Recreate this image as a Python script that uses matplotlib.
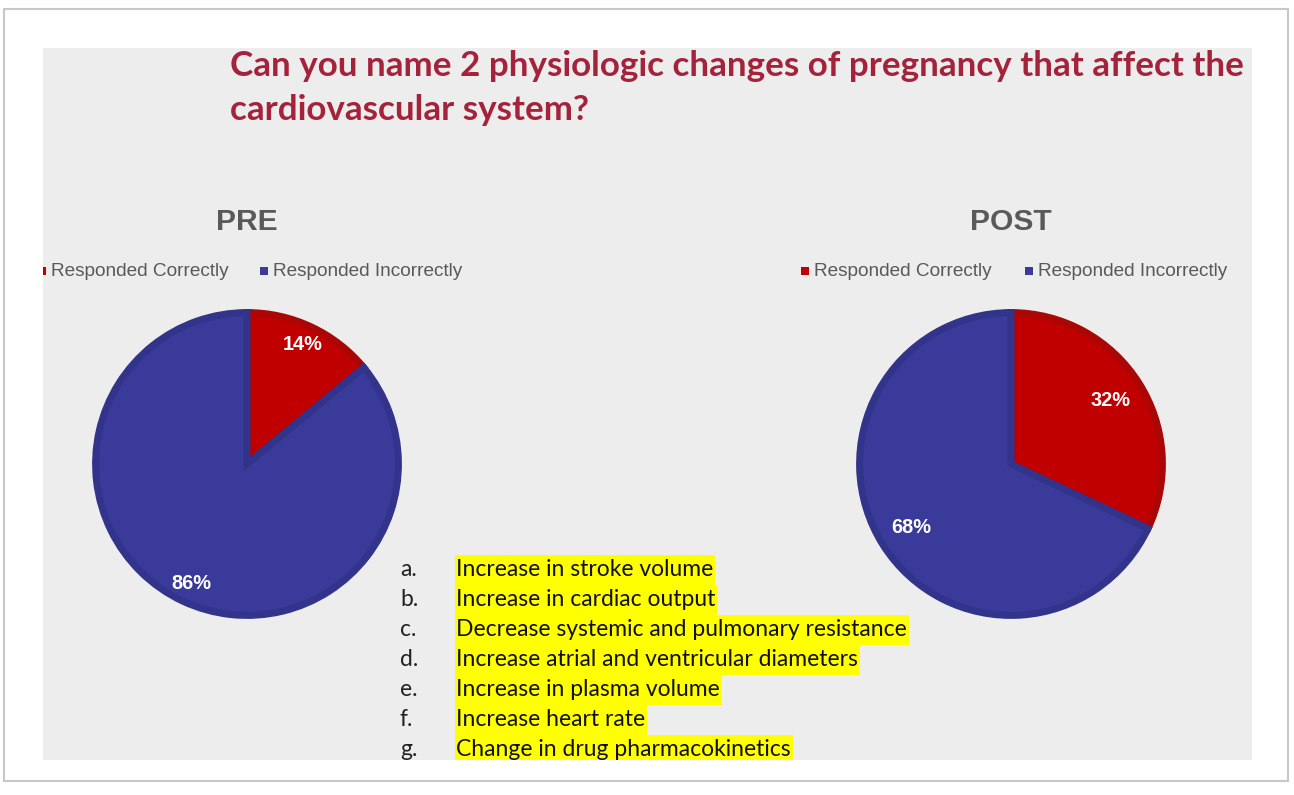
#!/usr/bin/env python3
import matplotlib
matplotlib.use("Agg")
import matplotlib.pyplot as plt
from matplotlib.patches import Rectangle

W, H = 1294, 795

TITLE = "Can you name 2 physiologic changes of pregnancy that affect the\ncardiovascular system?"
CATEGORIES = ["Responded Correctly", "Responded Incorrectly"]
PRE_VALUES = [14, 86]
POST_VALUES = [32, 68]
PANEL_TITLES = ["PRE", "POST"]
LIST_LETTERS = ["a.", "b.", "c.", "d.", "e.", "f.", "g."]
LIST_ITEMS = [
    "Increase in stroke volume",
    "Increase in cardiac output",
    "Decrease systemic and pulmonary resistance",
    "Increase atrial and ventricular diameters",
    "Increase in plasma volume",
    "Increase heart rate",
    "Change in drug pharmacokinetics",
]

RED, RED_EDGE = "#C00000", "#AA0606"
BLUE, BLUE_EDGE = "#393A9A", "#32338A"
GRAY_TEXT = "#595959"


def px(v):
    return v * 72 / 100.0


fig = plt.figure(figsize=(W / 100, H / 100), dpi=100, facecolor="white")
bg = fig.add_axes([0, 0, 1, 1])
bg.set_xlim(0, W)
bg.set_ylim(H, 0)
bg.axis("off")

# slide frame and grey panel
bg.add_patch(Rectangle((4, 9), 1284, 772, facecolor="white", edgecolor="#c8c8c8", lw=1.5))
panel = Rectangle((43, 48), 1209, 712, facecolor="#EDEDED", edgecolor="none")
bg.add_patch(panel)

bg.text(230, 88, TITLE, fontsize=px(35), fontweight="bold", color="#A5233A",
        family="Lato", ha="left", va="center", linespacing=1.48)


def draw_pie(cx, values, title, label_r):
    r = 155
    ax = fig.add_axes([(cx - r) / W, (H - (464 + r)) / H, 2 * r / W, 2 * r / H])
    wedges, texts = ax.pie(values, colors=[RED, BLUE], startangle=90, counterclock=False,
                           radius=0.977, labels=[f"{v}%" for v in values], labeldistance=label_r,
                           wedgeprops=dict(linewidth=5), textprops=dict(color="white",
                           fontsize=px(20), fontweight="bold", family="Liberation Sans"))
    wedges[0].set_edgecolor(RED_EDGE)
    wedges[1].set_edgecolor(BLUE_EDGE)
    for t in texts:
        t.set_ha("center")
        t.set_va("center")
    ax.set_xlim(-1, 1)
    ax.set_ylim(-1, 1)
    ax.set_aspect("equal")
    ax.axis("off")
    bg.text(cx, 222, title, fontsize=px(30), fontweight="bold", color=GRAY_TEXT,
            family="Liberation Sans", ha="center", va="center")


draw_pie(247, PRE_VALUES, PANEL_TITLES[0], 0.87)
draw_pie(1011, POST_VALUES, PANEL_TITLES[1], 0.78)

# legends
legend_x = [[38, 260], [801, 1025]]
for xs in legend_x:
    for x0, cat, col in zip(xs, CATEGORIES, [RED, BLUE]):
        sq = Rectangle((x0, 267), 8, 8, facecolor=col, edgecolor="none")
        bg.add_patch(sq)
        sq.set_clip_path(panel)
        bg.text(x0 + 13, 272, cat, fontsize=px(19), color=GRAY_TEXT, family="Liberation Sans",
                ha="left", va="center")

# answer list
rows = []
for i, (letter, item) in enumerate(zip(LIST_LETTERS, LIST_ITEMS)):
    y = 570 + i * 30
    t1 = bg.text(400, y, letter, fontsize=px(22.9), color="#222222", family="Lato",
                 ha="left", va="center")
    t2 = bg.text(456, y, item, fontsize=px(22.9), color="#111111", family="Lato",
                 ha="left", va="center", zorder=3)
    t1.set_clip_path(panel)
    t2.set_clip_path(panel)
    rows.append((t2, y))

fig.canvas.draw()
renderer = fig.canvas.get_renderer()
for t, y in rows:
    ext = t.get_window_extent(renderer)
    hl = Rectangle((455, y - 15), ext.width + 3, 30, facecolor="#FFFF00", edgecolor="none", zorder=2)
    bg.add_patch(hl)
    hl.set_clip_path(panel)

fig.savefig("out.png", dpi=100, facecolor="white")
